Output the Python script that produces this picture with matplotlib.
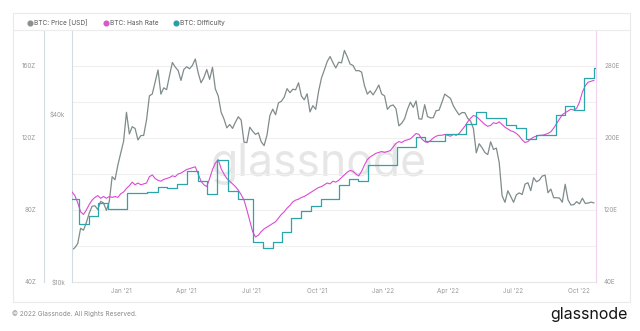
import matplotlib
matplotlib.use('Agg')
import matplotlib.pyplot as plt
import matplotlib.dates as mdates
from matplotlib.lines import Line2D
from matplotlib.patches import Rectangle
from matplotlib.ticker import NullLocator
import pandas as pd

plt.rcParams['font.family'] = ['Inter', 'DejaVu Sans']

# BTC price [USD], one value every 4 days from 2020-10-24
price = [
    13030, 13270, 13740, 15580, 15330, 16320, 17650, 18680, 18760, 18180,
    19450, 19190, 18050, 19420, 23840, 23250, 26270, 28950,
    31970, 40580, 33920, 36020, 35510, 32290, 33470,
    33520, 38140, 46480, 47170, 52150, 57540, 47110,
    49630, 48910, 54880, 61200, 58910, 57350, 52770, 57750,
    59060, 58090, 59770, 62970, 56220, 51760, 54020, 57750,
    53250, 58800, 49150, 46430, 40630, 38400, 35680,
    36690, 35520, 37390, 39100, 38030, 31680, 31590, 35870,
    34690, 33800, 34260, 31780, 30820, 33590, 39460, 41630,
    39760, 43830, 44420, 45940, 49320, 47680, 49070,
    48850, 51750, 46400, 44960, 47260, 40690, 42840, 41560,
    48230, 53800, 57490, 61670, 64280, 61140, 58480, 61320,
    61000, 67570, 64160, 60370, 59730, 57160, 57230,
    56520, 50580, 47150, 48390, 46850, 48630, 50810, 47180,
    46460, 41570, 42740, 43100, 41740, 36280, 37080, 38480,
    41570, 44100, 42260, 44550, 38430, 38340, 43190,
    39150, 38740, 38810, 41120, 41260, 43990, 47120,
    46300, 45500, 42760, 41150, 39720, 40480, 40430, 38600,
    37730, 35470, 29030, 31300, 30290, 29100, 28620, 31790,
    29860, 30190, 26760, 20380, 19300, 21230, 20280,
    19300, 20550, 20860, 20580, 22430, 22690, 21250, 23650,
    22860, 23180, 23970, 24150, 20880, 21530, 20040, 20050,
    19990, 19320, 22400, 19700, 18880, 18930, 19410,
    19050, 19970, 19130, 19180, 19330, 19210,
]

# BTC hash rate [EH/s], same dates
hash_rate = [
    140, 136, 128, 118, 115, 120, 126, 131, 134, 136,
    133, 135, 133, 135, 134, 135, 134, 138,
    140, 144, 147, 151, 148, 150, 148,
    149, 150, 157, 159, 155, 153, 152,
    154, 155, 156, 158, 157, 160, 161, 163,
    165, 166, 167, 168, 160, 152, 148, 146,
    155, 165, 172, 176, 166, 160, 155,
    152, 149, 146, 142, 137, 131, 120, 108,
    96, 90, 92, 96, 99, 101, 103, 105,
    107, 111, 115, 118, 122, 125, 129,
    131, 132, 134, 135, 137, 139, 141, 143,
    145, 146, 148, 150, 149, 152, 151, 153,
    156, 159, 162, 164, 163, 160, 158,
    163, 170, 176, 179, 181, 183, 184, 185,
    184, 185, 186, 190, 194, 196, 195, 197,
    198, 199, 202, 205, 204, 199, 196,
    195, 197, 200, 202, 203, 203, 204,
    203, 202, 204, 203, 205, 209, 213, 218,
    222, 225, 224, 221, 218, 215, 213, 214,
    217, 216, 218, 215, 212, 210, 208,
    207, 205, 202, 198, 195, 196, 199, 201,
    202, 203, 203, 204, 205, 207, 211, 216,
    221, 226, 228, 230, 232, 231, 233,
    240, 251, 258, 262, 263, 264,
]

# BTC difficulty [Z hashes], value from each adjustment date on
diff_dates = [
    '2020-10-24', '2020-11-03', '2020-11-17', '2020-11-29', '2020-12-13',
    '2021-01-09', '2021-02-05', '2021-02-21', '2021-03-05', '2021-03-19',
    '2021-04-02', '2021-04-18', '2021-05-01', '2021-05-14', '2021-05-29',
    '2021-06-13', '2021-07-03', '2021-07-17', '2021-07-31', '2021-08-13',
    '2021-08-26', '2021-09-09', '2021-09-22', '2021-10-06', '2021-11-01',
    '2021-11-14', '2021-11-27', '2021-12-11', '2022-01-21', '2022-02-16',
    '2022-03-01', '2022-03-29', '2022-04-26', '2022-05-10', '2022-05-24',
    '2022-06-22', '2022-07-06', '2022-07-19', '2022-08-02', '2022-08-30',
    '2022-09-12', '2022-09-24', '2022-10-08', '2022-10-22',
]
diff_values = [
    86.0, 72.4, 76.5, 84.0, 80.6,
    89.3, 90.2, 93.0, 92.2, 94.2,
    101.7, 96.0, 88.7, 107.6, 90.6,
    85.9, 62.1, 58.8, 62.1, 67.7,
    75.5, 79.2, 82.2, 85.9, 93.7,
    97.4, 95.9, 104.8, 115.1, 120.6,
    118.5, 122.5, 128.0, 134.6, 130.9,
    127.5, 125.7, 119.7, 121.6, 132.7,
    137.9, 135.5, 153.5, 158.7,
]

start, end = pd.Timestamp('2020-10-24'), pd.Timestamp('2022-10-25')
dates = pd.date_range(start, periods=len(price), freq='4D')
d_dates = list(pd.to_datetime(diff_dates)) + [end]
d_vals = diff_values + [diff_values[-1]]

c_price = '#808b8b'
c_hash = '#dc4ad2'
c_diff = '#2aa5aa'
c_tick = '#9a9a9a'
c_axis = '#cfdde3'

W, H = 640, 331
fig = plt.figure(figsize=(W / 100, H / 100), dpi=100)


def fx(px):
    return px / W


def fy(py):
    return 1 - py / H


# outer panel and the line under the legend
fig.patches.append(Rectangle((fx(13), fy(302)), fx(630) - fx(13), fy(13) - fy(302),
                             transform=fig.transFigure, fill=False, ec='#e9e9e9', lw=0.8))
fig.add_artist(Line2D([fx(13), fx(630)], [fy(30), fy(30)], color='#ececec', lw=0.8))

ax = fig.add_axes([fx(72), fy(282), fx(596) - fx(72), fy(30) - fy(282)])
ax_p = ax.twinx()
ax_h = ax.twinx()
ax_d = ax.twinx()

# host axis: difficulty scale, grid and watermark
ax.set_ylim(40, 180)
ax.set_yticks([40, 80, 120, 160])
ax.set_yticklabels(['40Z', '80Z', '120Z', '160Z'])
ax.set_yticks([60, 100, 140], minor=True)
ax.grid(axis='y', which='both', color='#efefef', lw=0.8)
ax.spines['left'].set_position(('axes', -28 / 524))
ax.spines['left'].set_color(c_axis)
ax.spines['bottom'].set_color('#e6e6e6')
ax.spines['top'].set_visible(False)
ax.spines['right'].set_visible(False)
ax.tick_params(axis='y', which='both', length=0, pad=5.8, labelsize=4.5, labelcolor=c_tick)
ax.text(0.471, 0.47, 'glassnode', transform=ax.transAxes, ha='center', va='center',
        fontsize=32, color='#e6e6e6', zorder=0)

# price axis, log scale
ax_p.plot(dates, price, color=c_price, lw=0.9)
ax_p.set_yscale('log')
ax_p.set_ylim(10000, 80000)
ax_p.set_yticks([10000, 40000])
ax_p.set_yticklabels(['$10k', '$40k'])
ax_p.yaxis.set_minor_locator(NullLocator())
ax_p.yaxis.set_ticks_position('left')
for s in ['right', 'top', 'bottom']:
    ax_p.spines[s].set_visible(False)
ax_p.spines['left'].set_color(c_axis)
ax_p.tick_params(axis='y', which='both', length=0, pad=5, labelsize=4.5, labelcolor=c_tick)

# hash rate axis, right
ax_h.plot(dates, hash_rate, color=c_hash, lw=0.8)
ax_h.set_ylim(40, 320)
ax_h.set_yticks([40, 120, 200, 280])
ax_h.set_yticklabels(['40E', '120E', '200E', '280E'])
for s in ['left', 'top', 'bottom']:
    ax_h.spines[s].set_visible(False)
ax_h.spines['right'].set_color('#f1d3ee')
ax_h.tick_params(axis='y', length=0, pad=5.8, labelsize=4.5, labelcolor=c_tick)

# difficulty line, on top
ax_d.step(d_dates, d_vals, where='post', color=c_diff, lw=0.9)
ax_d.set_ylim(40, 180)
ax_d.yaxis.set_visible(False)
for s in ax_d.spines.values():
    s.set_visible(False)

ax.set_xlim(start, end)
ax.xaxis.set_major_locator(mdates.MonthLocator(bymonth=[1, 4, 7, 10]))
ax.xaxis.set_major_formatter(mdates.DateFormatter("%b '%y"))
ax.tick_params(axis='x', length=0, pad=4, labelsize=4.5, labelcolor=c_tick)

# legend
for xpos, label, color in [(30, 'BTC: Price [USD]', '#8a8f8f'),
                           (106, 'BTC: Hash Rate', '#d65ac8'),
                           (176, 'BTC: Difficulty', '#2b9ea3')]:
    fig.add_artist(Line2D([fx(xpos)], [fy(23)], marker='o', ms=3.4, color=color, ls='none'))
    fig.text(fx(xpos + 4), fy(23), label, va='center', ha='left', fontsize=4.7, color='#555555')

# footer
fig.text(fx(12), fy(314), '\u00a9 2022 Glassnode. All Rights Reserved.', va='center',
         fontsize=4.7, color='#8a8a8a')
fig.text(fx(628), fy(315), 'glassnode', ha='right', va='center', fontsize=11.5, color='#151515')

fig.savefig('out.png', dpi=100, facecolor='white')
